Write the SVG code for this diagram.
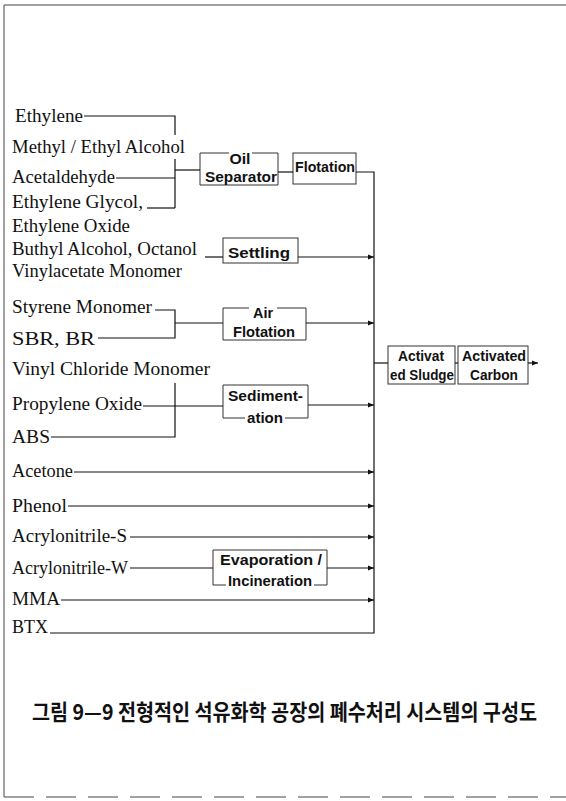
<svg xmlns="http://www.w3.org/2000/svg" width="566" height="801" viewBox="0 0 566 801">
<style>
.lbl{font-family:"Liberation Serif","Times New Roman",serif;font-size:18px;fill:#111}
.bt{font-family:"Liberation Sans",Arial,sans-serif;font-weight:bold;font-size:14px;fill:#111}
.box{fill:none;stroke:#333;stroke-width:1}
.ln{fill:none;stroke:#111;stroke-width:1.2}
.fr{fill:none;stroke:#444;stroke-width:1}
.cap{font-family:"Noto Sans CJK KR","Noto Sans CJK SC",sans-serif;font-weight:bold;font-size:19px;fill:#111}
</style>
<defs>
<marker id="ah" markerWidth="6" markerHeight="6" refX="6" refY="3" orient="auto" markerUnits="userSpaceOnUse"><path d="M0,0.5 L6,3 L0,5.5 z" fill="#111"/></marker>
</defs>
<g id="frame">
<path class="fr" d="M4,5 H566"/>
<path class="fr" d="M4,5 V797"/>
<path class="fr" d="M4,797 H566" stroke-dasharray="30 12" stroke="#999"/>
</g>
<g id="sources">
<text id="s-ethylene" class="lbl" x="15" y="122" textLength="68" lengthAdjust="spacingAndGlyphs">Ethylene</text>
<text id="s-methyl" class="lbl" x="12" y="153" textLength="173" lengthAdjust="spacingAndGlyphs">Methyl / Ethyl  Alcohol</text>
<text id="s-acetaldehyde" class="lbl" x="12" y="183" textLength="103" lengthAdjust="spacingAndGlyphs">Acetaldehyde</text>
<text id="s-glycol" class="lbl" x="12" y="208" textLength="131" lengthAdjust="spacingAndGlyphs">Ethylene Glycol,</text>
<text id="s-oxide" class="lbl" x="12" y="232" textLength="118" lengthAdjust="spacingAndGlyphs">Ethylene Oxide</text>
<text id="s-buthyl" class="lbl" x="12" y="255" textLength="185" lengthAdjust="spacingAndGlyphs">Buthyl Alcohol, Octanol</text>
<text id="s-vinylacetate" class="lbl" x="12" y="277" textLength="170" lengthAdjust="spacingAndGlyphs">Vinylacetate Monomer</text>
<text id="s-styrene" class="lbl" x="12" y="313" textLength="140" lengthAdjust="spacingAndGlyphs">Styrene Monomer</text>
<text id="s-sbr" class="lbl" x="12" y="345" textLength="83" lengthAdjust="spacingAndGlyphs">SBR, BR</text>
<text id="s-vcm" class="lbl" x="12" y="375" textLength="198" lengthAdjust="spacingAndGlyphs">Vinyl Chloride Monomer</text>
<text id="s-propylene" class="lbl" x="12" y="410" textLength="130" lengthAdjust="spacingAndGlyphs">Propylene Oxide</text>
<text id="s-abs" class="lbl" x="12" y="443" textLength="38" lengthAdjust="spacingAndGlyphs">ABS</text>
<text id="s-acetone" class="lbl" x="12" y="477" textLength="61" lengthAdjust="spacingAndGlyphs">Acetone</text>
<text id="s-phenol" class="lbl" x="12" y="512" textLength="55" lengthAdjust="spacingAndGlyphs">Phenol</text>
<text id="s-acrs" class="lbl" x="12" y="542" textLength="115" lengthAdjust="spacingAndGlyphs">Acrylonitrile-S</text>
<text id="s-acrw" class="lbl" x="12" y="574" textLength="116" lengthAdjust="spacingAndGlyphs">Acrylonitrile-W</text>
<text id="s-mma" class="lbl" x="12" y="605" textLength="48" lengthAdjust="spacingAndGlyphs">MMA</text>
<text id="s-btx" class="lbl" x="12" y="633" textLength="36" lengthAdjust="spacingAndGlyphs">BTX</text>
</g>
<g id="oil-separator">
<path class="box" d="M229,153 H200 V185 H278 V153 H252"/>
<text class="bt" x="240" y="164" text-anchor="middle" textLength="21" lengthAdjust="spacingAndGlyphs">Oil</text>
<text class="bt" x="205" y="182" textLength="72" lengthAdjust="spacingAndGlyphs">Separator</text>
</g>
<g id="flotation">
<rect class="box" x="293" y="153" width="63" height="31"/>
<text class="bt" x="295" y="172" textLength="60" lengthAdjust="spacingAndGlyphs">Flotation</text>
</g>
<g id="settling">
<rect class="box" x="223" y="238" width="75" height="25"/>
<text class="bt" x="228" y="258" font-size="16" textLength="62" lengthAdjust="spacingAndGlyphs">Settling</text>
</g>
<g id="air-flotation">
<path class="box" d="M249,308 H223 V340 H306 V308 H277"/>
<text class="bt" x="263" y="318" text-anchor="middle" textLength="20" lengthAdjust="spacingAndGlyphs">Air</text>
<text class="bt" x="233" y="337" textLength="62" lengthAdjust="spacingAndGlyphs">Flotation</text>
</g>
<g id="sedimentation">
<path class="box" d="M245,418 H223 V385 H308 V418 H285"/>
<text class="bt" x="228" y="401" textLength="75" lengthAdjust="spacingAndGlyphs">Sediment-</text>
<text class="bt" x="247" y="423" textLength="36" lengthAdjust="spacingAndGlyphs">ation</text>
</g>
<g id="evaporation">
<path class="box" d="M226,585 H213 V550 H327 V585 H314"/>
<text class="bt" x="220" y="565" textLength="102" lengthAdjust="spacingAndGlyphs">Evaporation /</text>
<text class="bt" x="228" y="586" textLength="84" lengthAdjust="spacingAndGlyphs">Incineration</text>
</g>
<g id="activated-sludge">
<rect class="box" x="388" y="346" width="67" height="38"/>
<text class="bt" x="398" y="361" textLength="46" lengthAdjust="spacingAndGlyphs">Activat</text>
<text class="bt" x="390" y="380" textLength="64" lengthAdjust="spacingAndGlyphs">ed Sludge</text>
</g>
<g id="activated-carbon">
<rect class="box" x="458" y="346" width="70" height="38"/>
<text class="bt" x="462" y="361" textLength="64" lengthAdjust="spacingAndGlyphs">Activated</text>
<text class="bt" x="470" y="380" textLength="48" lengthAdjust="spacingAndGlyphs">Carbon</text>
</g>
<g id="connectors">
<path class="ln" d="M84,116 H175 V135"/>
<path class="ln" d="M175,159 V208"/>
<path class="ln" d="M116,178 H175"/>
<path class="ln" d="M147,208 H175"/>
<path class="ln" d="M175,170 H200"/>
<path class="ln" d="M278,172 H293"/>
<path class="ln" d="M356,172 H374 V633 H50"/>
<path class="ln" d="M205,257 H223"/>
<path class="ln" d="M298,257 H374" marker-end="url(#ah)"/>
<path class="ln" d="M155,310 H175 V338 H98"/>
<path class="ln" d="M175,323 H223"/>
<path class="ln" d="M306,323 H374" marker-end="url(#ah)"/>
<path class="ln" d="M175,383 V437 H51"/>
<path class="ln" d="M143,406 H223"/>
<path class="ln" d="M308,405 H374" marker-end="url(#ah)"/>
<path class="ln" d="M74,472 H374" marker-end="url(#ah)"/>
<path class="ln" d="M68,506 H374" marker-end="url(#ah)"/>
<path class="ln" d="M130,537 H374" marker-end="url(#ah)"/>
<path class="ln" d="M130,568 H213"/>
<path class="ln" d="M327,568 H374" marker-end="url(#ah)"/>
<path class="ln" d="M61,600 H374" marker-end="url(#ah)"/>
<path class="ln" d="M374,363 H388"/>
<path class="ln" d="M455,363 H458"/>
<path class="ln" d="M528,363 H538" marker-end="url(#ah)"/>
</g>
<g id="caption">
<text class="cap" transform="translate(0,720) scale(1,1.15)" x="32" y="0" textLength="505" lengthAdjust="spacingAndGlyphs">그림 9—9 전형적인 석유화학 공장의 폐수처리 시스템의 구성도</text>
</g>
</svg>
